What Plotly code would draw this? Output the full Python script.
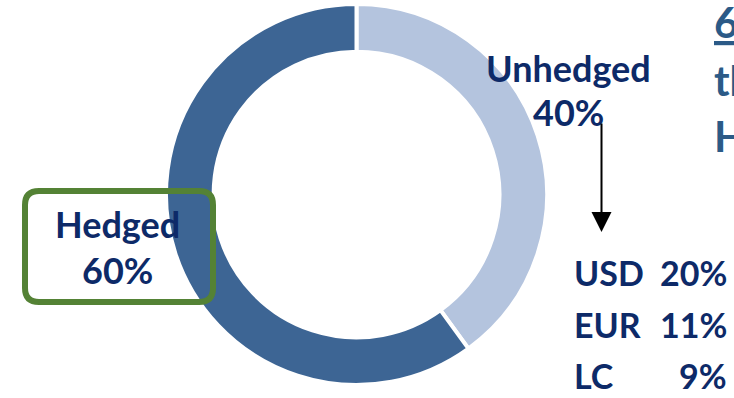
import plotly.graph_objects as go

W, H = 734, 398

# Hedging split of the exposure
segments = ["Unhedged", "Hedged"]
shares = [40, 60]
seg_colors = ["#b4c4de", "#3d6594"]

# Breakdown of the unhedged part by currency
currencies = ["USD", "EUR", "LC"]
currency_shares = [20, 11, 9]

# Heading lines (right-hand side, running off the edge)
heading = ["<u>6</u>", "th", "H"]

NAVY = "#0d2a68"
STEEL = "#2b5a87"
GREEN = "#548235"
FONT = "Lato"


def px(x):
    return x / W


def py(y):
    return 1 - y / H


fig = go.Figure()

fig.add_trace(go.Pie(
    labels=segments,
    values=shares,
    sort=False,
    direction="clockwise",
    rotation=0,
    hole=0.75,
    marker=dict(colors=seg_colors, line=dict(color="white", width=4)),
    textinfo="none",
    hoverinfo="label+percent",
    showlegend=False,
    domain=dict(x=[px(166), px(547)], y=[py(385), py(4)]),
))

annotations = []


def label(text, x, y, size=36, color=NAVY, xanchor="center"):
    annotations.append(dict(
        text=f"<b>{text}</b>", x=px(x), y=py(y), xref="paper", yref="paper",
        xanchor=xanchor, yanchor="middle", showarrow=False,
        font=dict(family=FONT, size=size, color=color),
    ))


shares_by_name = dict(zip(segments, shares))

# Segment labels
label(segments[1], 118, 224)
label(f"{shares_by_name['Hedged']}%", 118, 270)
label(segments[0], 568, 68)
label(f"{shares_by_name['Unhedged']}%", 568, 112)

# Currency table
rows_y = [272, 324, 375]
for name, val, y in zip(currencies, currency_shares, rows_y):
    label(name, 572, y, size=34, xanchor="left")
    label(f"{val}%", 729, y, size=34, xanchor="right")

# Heading text
for line, y in zip(heading, [22, 80, 136]):
    label(line, 712, y, size=42, color=STEEL, xanchor="left")

# Arrow from the unhedged label down to the currency table
annotations.append(dict(
    text="", x=px(601.5), y=py(232), xref="paper", yref="paper",
    showarrow=True, ax=0, ay=-110, axref="pixel", ayref="pixel",
    arrowhead=2, arrowwidth=2, arrowsize=2, arrowcolor="black",
))

# Rounded frame around the hedged label
x0, x1, y0, y1, r = 25, 213, 191, 302, 14
path = (
    f"M {px(x0 + r)},{py(y0)} L {px(x1 - r)},{py(y0)} "
    f"Q {px(x1)},{py(y0)} {px(x1)},{py(y0 + r)} "
    f"L {px(x1)},{py(y1 - r)} Q {px(x1)},{py(y1)} {px(x1 - r)},{py(y1)} "
    f"L {px(x0 + r)},{py(y1)} Q {px(x0)},{py(y1)} {px(x0)},{py(y1 - r)} "
    f"L {px(x0)},{py(y0 + r)} Q {px(x0)},{py(y0)} {px(x0 + r)},{py(y0)} Z"
)

fig.update_layout(
    width=W, height=H,
    margin=dict(l=0, r=0, t=0, b=0),
    paper_bgcolor="white",
    plot_bgcolor="white",
    annotations=annotations,
    shapes=[dict(type="path", path=path, xref="paper", yref="paper",
                 line=dict(color=GREEN, width=6), fillcolor="rgba(0,0,0,0)")],
)

fig.write_html("out.html")
